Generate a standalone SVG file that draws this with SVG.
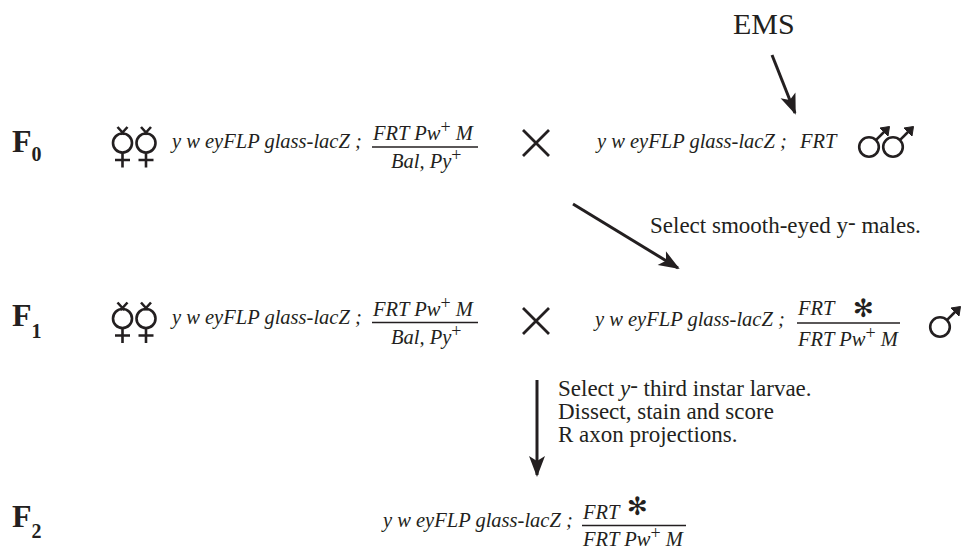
<svg xmlns="http://www.w3.org/2000/svg" width="961" height="549" viewBox="0 0 961 549">
<style>
.gen{font-family:"Liberation Serif",serif;font-style:italic;font-size:20.5px;fill:#231f20}
.lbl{font-family:"Liberation Serif",serif;font-size:23px;fill:#231f20}
.gen-F{font-family:"Liberation Serif",serif;font-weight:bold;font-size:32px;fill:#231f20}
.sub{font-size:20px}
.sup{font-size:18px;font-style:normal}
.ast{font-family:"DejaVu Sans",sans-serif;font-size:25px;font-weight:bold;fill:#231f20}
.sym{fill:none;stroke:#231f20;stroke-width:2.6}
.bar{stroke:#231f20;stroke-width:1.6}
.cross{stroke:#231f20;stroke-width:2.8;fill:none}
.arr{stroke:#231f20;stroke-width:3;fill:none}
</style>
<defs>
<marker id="ah" markerUnits="userSpaceOnUse" markerWidth="26" markerHeight="22" viewBox="-22 -11 26 22" refX="0" refY="0" orient="auto">
<path d="M2,0 L-19,-8 L-14,0 L-19,8 Z" fill="#231f20"/>
</marker>
<g id="fem">
<circle cx="0" cy="0" r="9.5" class="sym"/>
<path d="M-5,-16 L1.8,-8.5 M5,-16 L-1.8,-8.5 M0,9.5 L0,24.5 M-7.5,17 L7.5,17" class="sym"/>
</g>
<g id="male">
<circle cx="0" cy="0" r="9.8" class="sym"/>
<path d="M6.9,-6.9 L17,-17" class="sym"/>
<path d="M20.5,-20.5 L11,-19 L19,-11 Z" fill="#231f20" stroke="#231f20" stroke-width="1"/>
</g>
</defs>

<g id="labels">
<text class="gen-F" x="12" y="152">F<tspan class="sub" dy="9">0</tspan></text>
<text class="gen-F" x="12" y="326">F<tspan class="sub" dy="12">1</tspan></text>
<text class="gen-F" x="12" y="527">F<tspan class="sub" dy="11">2</tspan></text>
<text class="lbl" x="733" y="34" style="font-size:30px">EMS</text>
<text class="lbl" x="650" y="233">Select smooth-eyed y<tspan dy="-3">-</tspan><tspan dy="3"> males.</tspan></text>
<text class="lbl" x="558" y="396">Select <tspan font-style="italic">y</tspan><tspan dy="-3">-</tspan><tspan dy="3"> third instar larvae.</tspan></text>
<text class="lbl" x="558" y="419">Dissect, stain and score</text>
<text class="lbl" x="558" y="442">R axon projections.</text>
</g>

<g id="f0-female">
<use href="#fem" x="122.5" y="143"/>
<use href="#fem" x="146" y="143"/>
<text class="gen" x="172" y="148">y w eyFLP glass-lacZ ;</text>
<text class="gen" x="373" y="140">FRT Pw<tspan class="sup" dy="-7">+</tspan><tspan dy="7"> M</tspan></text>
<line x1="372" y1="147" x2="478" y2="147" class="bar"/>
<text class="gen" x="391" y="168">Bal, Py<tspan class="sup" dy="-7">+</tspan></text>
</g>
<g id="f0-cross">
<path d="M523,130 L549,156 M549,130 L523,156" class="cross"/>
</g>
<g id="f0-male">
<text class="gen" x="597" y="148">y w eyFLP glass-lacZ ;<tspan x="800">FRT</tspan></text>
<use href="#male" x="869" y="147"/>
<use href="#male" x="893" y="147"/>
</g>

<g id="f1-female">
<use href="#fem" x="122.5" y="318.5"/>
<use href="#fem" x="146" y="318.5"/>
<text class="gen" x="172" y="324">y w eyFLP glass-lacZ ;</text>
<text class="gen" x="373" y="316">FRT Pw<tspan class="sup" dy="-7">+</tspan><tspan dy="7"> M</tspan></text>
<line x1="372" y1="322.5" x2="478" y2="322.5" class="bar"/>
<text class="gen" x="391" y="344">Bal, Py<tspan class="sup" dy="-7">+</tspan></text>
</g>
<g id="f1-cross">
<path d="M523,308 L549,334 M549,308 L523,334" class="cross"/>
</g>
<g id="f1-male">
<text class="gen" x="595" y="326">y w eyFLP glass-lacZ ;</text>
<text class="gen" x="798" y="315">FRT</text>
<text class="ast" x="853" y="317">✻</text>
<line x1="797" y1="323" x2="900" y2="323" class="bar"/>
<text class="gen" x="798" y="346">FRT Pw<tspan class="sup" dy="-7">+</tspan><tspan dy="7"> M</tspan></text>
<use href="#male" x="940" y="327"/>
</g>

<g id="f2">
<text class="gen" x="383" y="527">y w eyFLP glass-lacZ ;</text>
<text class="gen" x="583" y="519">FRT</text>
<text class="ast" x="627" y="515">✻</text>
<line x1="582" y1="525.5" x2="686" y2="525.5" class="bar"/>
<text class="gen" x="583" y="546">FRT Pw<tspan class="sup" dy="-7">+</tspan><tspan dy="7"> M</tspan></text>
</g>

<g id="connectors">
<line x1="772" y1="55" x2="795" y2="113" class="arr" marker-end="url(#ah)"/>
<line x1="573" y1="204" x2="678" y2="268" class="arr" marker-end="url(#ah)"/>
<line x1="537" y1="380" x2="537" y2="475" class="arr" marker-end="url(#ah)"/>
</g>
</svg>
